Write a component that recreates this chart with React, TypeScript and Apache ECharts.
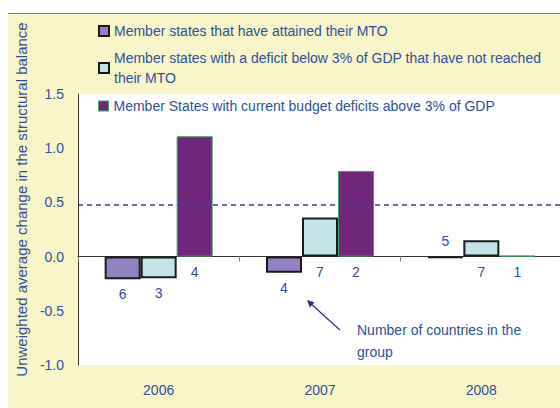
import React, { useEffect, useRef } from "react";
import * as echarts from "echarts";

const years = ["2006", "2007", "2008"];
const seriesNames = [
  "Member states that have attained their MTO",
  "Member states with a deficit below 3% of GDP that have not reached their MTO",
  "Member States with current budget deficits above 3% of GDP",
];
const mtoValues = [-0.21, -0.15, -0.01];
const belowValues = [-0.2, 0.36, 0.15];
const aboveValues = [1.11, 0.79, 0.01];
const mtoCounts = [6, 4, 5];
const belowCounts = [3, 7, 7];
const aboveCounts = [4, 2, 1];
const mtoLabelPos = ["bottom", "bottom", "top"];
const belowLabelPos = ["bottom", "bottom", "bottom"];
const aboveLabelPos = ["bottom", "bottom", "bottom"];
const referenceLevel = 0.48;
const yTicks = { min: -1, max: 1.5, interval: 0.5 };
const annotationText = "Number of countries in the\ngroup";

const TEXT = "#2F4F9F";
const FONT = "Liberation Sans";

function buildData(values: number[], counts: number[], pos: string[]) {
  return values.map((v, i) => ({
    value: v,
    label: {
      show: true,
      position: pos[i],
      distance: 8,
      formatter: String(counts[i]),
      color: TEXT,
      fontSize: 14,
      fontFamily: FONT,
    },
  }));
}

export default function App() {
  const ref = useRef<HTMLDivElement>(null);
  useEffect(() => {
    if (!ref.current) return;
    const chart = echarts.init(ref.current, null, { renderer: "svg" });
    const styles = [
      { color: "#9282C2", borderColor: "#1a1a1a", borderWidth: 2 },
      { color: "#C3E4E6", borderColor: "#1a1a1a", borderWidth: 2 },
      { color: "#70267A", borderColor: "#3FA060", borderWidth: 1 },
    ];
    const legendTops = [21, 38, 96];
    const legends = seriesNames.map((n, i) => ({
      show: true,
      left: 98,
      top: legendTops[i],
      padding: 0,
      itemWidth: 10,
      itemHeight: 10,
      icon: "rect",
      selectedMode: false,
      data: [{ name: n, itemStyle: { ...styles[i] } }],
      formatter: (name: string) =>
        name === seriesNames[1]
          ? "Member states with a deficit below 3% of GDP that have not reached\ntheir MTO"
          : name,
      textStyle: {
        color: TEXT,
        fontSize: 14,
        fontFamily: FONT,
        lineHeight: 20,
        padding: i === 1 ? [20, 0, 0, 0] : 0,
      },
    }));
    chart.setOption({
      animation: false,
      backgroundColor: "transparent",
      textStyle: { fontFamily: FONT },
      legend: legends,
      grid: {
        left: 78,
        top: 94,
        width: 484,
        height: 271,
        show: true,
        backgroundColor: "#ffffff",
        borderWidth: 0,
        containLabel: false,
        outerBoundsMode: "none",
      },
      xAxis: [
        {
          type: "category",
          data: years,
          position: "bottom",
          axisLine: { show: false, onZero: false },
          axisTick: { show: false },
          axisLabel: { margin: 18, color: TEXT, fontSize: 14, fontFamily: FONT },
          splitLine: { show: false },
        },
        {
          type: "category",
          data: years,
          position: "bottom",
          axisLine: { show: true, onZero: true, lineStyle: { color: "#333333", width: 1 } },
          axisTick: { show: true, length: 5, lineStyle: { color: "#888888" } },
          axisLabel: { show: false },
          splitLine: { show: false },
        },
      ],
      yAxis: {
        type: "value",
        min: yTicks.min,
        max: yTicks.max,
        interval: yTicks.interval,
        name: "Unweighted average change in the structural balance",
        nameLocation: "middle",
        nameRotate: 90,
        nameGap: 40,
        nameTextStyle: {
          color: TEXT,
          fontSize: 15,
          fontFamily: FONT,
          padding: [0, 0, 0, 60],
        },
        axisLine: { show: true, lineStyle: { color: "#333333", width: 1 } },
        axisTick: { show: false },
        axisLabel: {
          margin: 14,
          color: TEXT,
          fontSize: 14,
          fontFamily: FONT,
          formatter: (v: number) => v.toFixed(1),
        },
        splitLine: { show: false },
      },
      series: [
        {
          name: seriesNames[0],
          type: "bar",
          barWidth: 36,
          barGap: "0%",
          itemStyle: styles[0],
          data: buildData(mtoValues, mtoCounts, mtoLabelPos),
          markLine: {
            silent: true,
            symbol: ["none", "none"],
            label: { show: false },
            lineStyle: { color: "#3B3BA8", type: [5, 4], width: 1.5 },
            data: [{ yAxis: referenceLevel }],
          },
        },
        {
          name: seriesNames[1],
          type: "bar",
          barWidth: 36,
          barGap: "0%",
          itemStyle: styles[1],
          data: buildData(belowValues, belowCounts, belowLabelPos),
        },
        {
          name: seriesNames[2],
          type: "bar",
          barWidth: 36,
          barGap: "0%",
          itemStyle: styles[2],
          data: buildData(aboveValues, aboveCounts, aboveLabelPos),
        },
      ],
      graphic: [
        {
          type: "text",
          left: 357,
          top: 319,
          style: {
            text: annotationText,
            fill: TEXT,
            fontSize: 14,
            fontFamily: FONT,
            lineHeight: 22,
          },
        },
        {
          type: "line",
          shape: { x1: 340, y1: 330, x2: 310, y2: 303 },
          style: { stroke: "#2E2E80", lineWidth: 1.2 },
        },
        {
          type: "polygon",
          shape: { points: [[307, 300], [314.5, 302.3], [309.8, 307.5]] },
          style: { fill: "#2E2E80" },
        },
      ],
    });
    return () => chart.dispose();
  }, []);
  return (
    <div style={{ position: "absolute", left: 0, top: 0, width: 560, height: 408, background: "#ffffff" }}>
      <div
        style={{
          position: "absolute",
          left: 8,
          top: 13,
          width: 552,
          height: 395,
          background: "#F8F5C8",
          borderTop: "1px solid #808080",
          boxSizing: "border-box",
        }}
      />
      <div ref={ref} style={{ position: "absolute", left: 0, top: 0, width: 560, height: 408 }} />
    </div>
  );
}
